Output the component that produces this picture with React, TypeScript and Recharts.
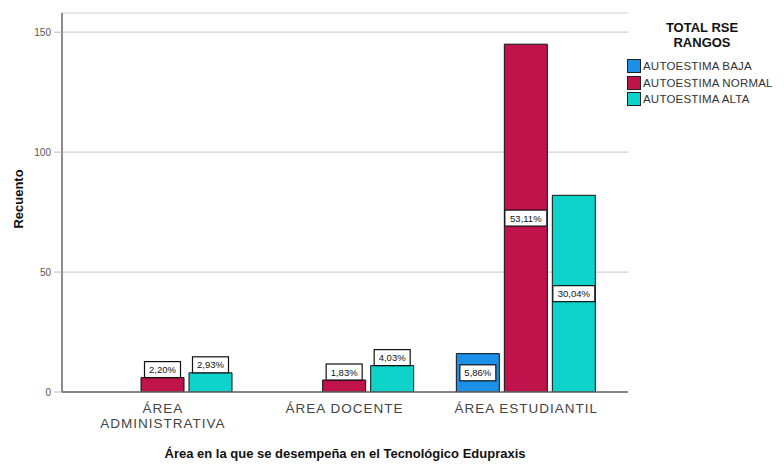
import React from 'react';
import { BarChart, Bar, XAxis, YAxis, CartesianGrid, Legend, LabelList } from 'recharts';

const categories = ['ÁREA ADMINISTRATIVA', 'ÁREA DOCENTE', 'ÁREA ESTUDIANTIL'];
const bajaValues = [0, 0, 16];
const normalValues = [6, 5, 145];
const altaValues = [8, 11, 82];
const seriesNames = ['AUTOESTIMA BAJA', 'AUTOESTIMA NORMAL', 'AUTOESTIMA ALTA'];
const seriesColors = ['#1c8fe6', '#c0124b', '#0ed3cb'];
const yTicks = [0, 50, 100, 150];
const legendTitle = ['TOTAL RSE', 'RANGOS'];
const yTitle = 'Recuento';
const xTitle = 'Área en la que se desempeña en el Tecnológico Edupraxis';

const data = categories.map((c, i) => ({
  area: c,
  baja: bajaValues[i],
  normal: normalValues[i],
  alta: altaValues[i],
}));
const total = [...bajaValues, ...normalValues, ...altaValues].reduce((a, b) => a + b, 0);
const keys = ['baja', 'normal', 'alta'];

const FONT = 'Arial, "Liberation Sans", sans-serif';

const PctLabel = (props: any) => {
  const x = Number(props.x);
  const y = Number(props.y);
  const width = Number(props.width);
  const height = Number(props.height);
  const value = Number(props.value);
  if (!value) return null;
  const txt = ((value / total) * 100).toFixed(2).replace('.', ',') + '%';
  const bw = txt.length * 6 + 6;
  const bh = 16;
  const cx = x + width / 2;
  const cy = height > 30 ? y + height / 2 : y - 8;
  return (
    <g>
      <rect x={cx - bw / 2} y={cy - bh / 2} width={bw} height={bh} fill="#fff" stroke="#111" strokeWidth={1.2} />
      <text x={cx} y={cy} dy={3.5} textAnchor="middle" fontSize={9.5} fontFamily={FONT} fill="#111">
        {txt}
      </text>
    </g>
  );
};

const XTick = (props: any) => {
  const { x, y, payload } = props;
  const v: string = payload.value;
  let lines = [v];
  if (v.length > 17) {
    const idx = v.indexOf(' ');
    lines = [v.slice(0, idx), v.slice(idx + 1)];
  }
  return (
    <g>
      {lines.map((l, i) => (
        <text
          key={i}
          x={x}
          y={y}
          dy={13 + i * 15}
          textAnchor="middle"
          fontSize={13.5}
          letterSpacing={1}
          fontFamily={FONT}
          fill="#444"
        >
          {l}
        </text>
      ))}
    </g>
  );
};

const LegendContent = () => (
  <div style={{ fontFamily: FONT, width: 160 }}>
    <div
      style={{
        textAlign: 'center',
        fontWeight: 'bold',
        fontSize: 13,
        lineHeight: '15px',
        color: '#111',
        width: 150,
      }}
    >
      {legendTitle.map((t) => (
        <div key={t}>{t}</div>
      ))}
    </div>
    <div style={{ marginTop: 8 }}>
      {seriesNames.map((n, i) => (
        <div key={n} style={{ display: 'flex', alignItems: 'center', height: 16.5, whiteSpace: 'nowrap' }}>
          <span
            style={{
              display: 'inline-block',
              width: 12,
              height: 12,
              background: seriesColors[i],
              border: '1px solid #222',
              marginRight: 2,
            }}
          />
          <span style={{ fontSize: 11.5, letterSpacing: 0.2, color: '#333' }}>{n}</span>
        </div>
      ))}
    </div>
  </div>
);

export default function App() {
  return (
    <div style={{ position: 'absolute', left: 0, top: 0, width: 784, height: 464, background: '#fff', overflow: 'hidden' }}>
      <BarChart
        width={784}
        height={464}
        data={data}
        margin={{ top: 13, right: 156, left: 0, bottom: 0 }}
        barCategoryGap={21}
        barGap={5}
      >
        <CartesianGrid horizontal vertical={false} stroke="#cfcfcf" strokeWidth={1.2} />
        <XAxis
          dataKey="area"
          height={72}
          padding={{ left: 10, right: 11 }}
          tickLine={false}
          axisLine={{ stroke: '#666', strokeWidth: 1.5 }}
          tick={<XTick />}
          interval={0}
          label={{
            content: () => (
              <text x={345} y={458} textAnchor="middle" fontSize={13} fontWeight="bold" fontFamily={FONT} fill="#111">
                {xTitle}
              </text>
            ),
          }}
        />
        <YAxis
          width={62}
          domain={[0, 158]}
          ticks={yTicks}
          allowDataOverflow
          tickSize={8}
          tickMargin={3}
          tickLine={{ stroke: '#bbb' }}
          axisLine={{ stroke: '#666', strokeWidth: 1.5 }}
          tick={{ fontSize: 10, fill: '#555', fontFamily: FONT }}
          label={{
            content: () => (
              <text
                x={18}
                y={199}
                transform="rotate(-90 18 199)"
                textAnchor="middle"
                dominantBaseline="central"
                fontSize={13}
                fontWeight="bold"
                fontFamily={FONT}
                fill="#111"
              >
                {yTitle}
              </text>
            ),
          }}
        />
        <Legend
          layout="horizontal"
          align="center"
          verticalAlign="middle"
          content={<LegendContent />}
          wrapperStyle={{ left: 627, top: 20, width: 160, height: 100 }}
        />
        {keys.map((k, i) => (
          <Bar
            key={k}
            dataKey={k}
            name={seriesNames[i]}
            fill={seriesColors[i]}
            stroke="#111"
            strokeWidth={1}
            isAnimationActive={false}
          >
            <LabelList dataKey={k} content={<PctLabel />} />
          </Bar>
        ))}
      </BarChart>
    </div>
  );
}
